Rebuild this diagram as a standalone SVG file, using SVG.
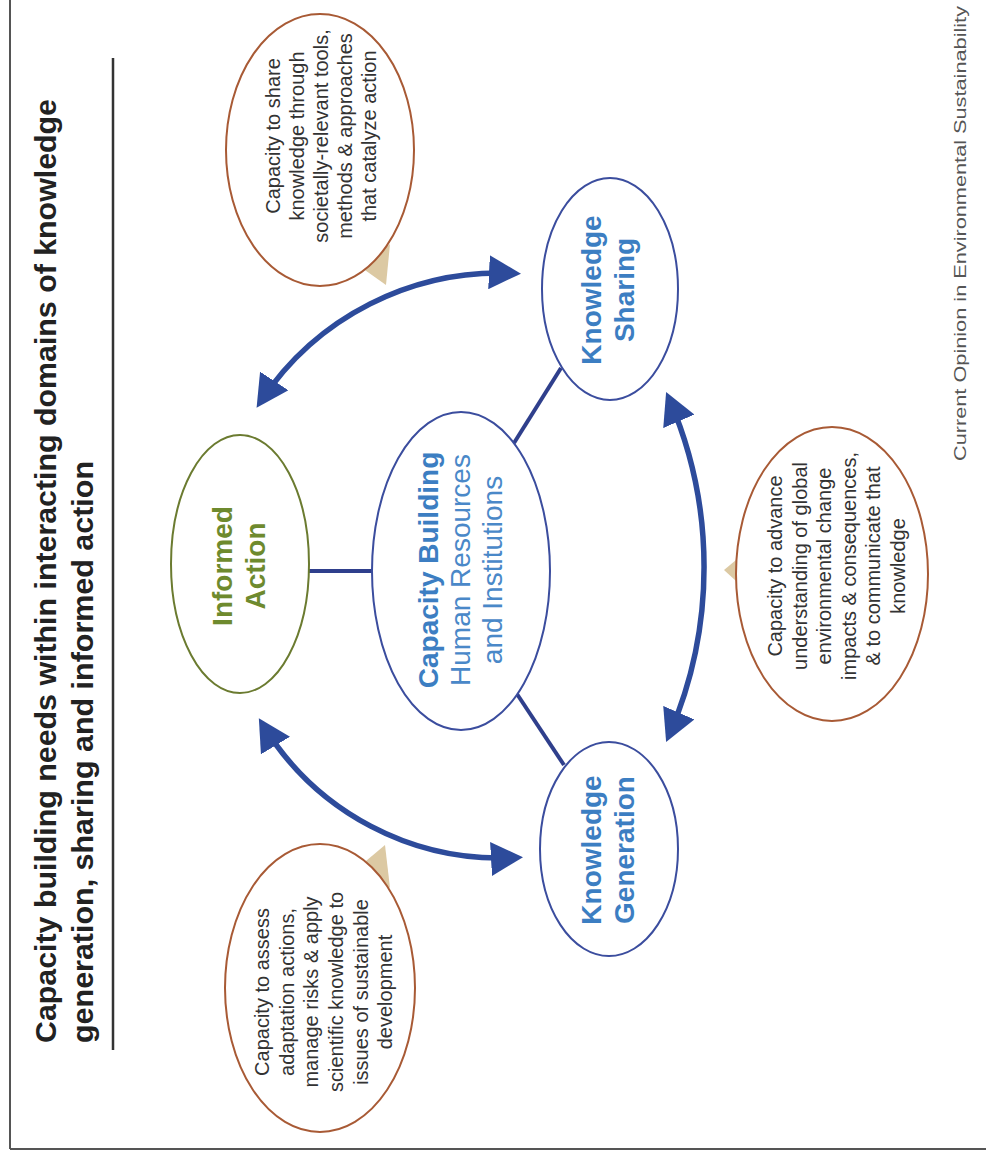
<svg xmlns="http://www.w3.org/2000/svg" width="986" height="1161" viewBox="0 0 986 1161">
<style>
  text { font-family: "Liberation Sans", Arial, sans-serif; }
  .title { font-size: 30px; font-weight: bold; fill: #222; }
  .node { fill: #fff; stroke: #3b4d9e; stroke-width: 2; }
  .nodeIA { fill: #fff; stroke: #6b7b30; stroke-width: 2; }
  .lblB { font-size: 28px; font-weight: bold; fill: #3c7ec2; text-anchor: middle; }
  .lblR { font-size: 28px; fill: #4a88c8; text-anchor: middle; }
  .lblIA { font-size: 28px; font-weight: bold; fill: #6e8a2e; text-anchor: middle; }
  .call { fill: #fff; stroke: #a85a35; stroke-width: 2; }
  .tail { fill: #dcc9a3; }
  .ct { font-size: 20px; fill: #333; text-anchor: middle; }
  .conn { stroke: #2f3f8c; stroke-width: 4; fill: none; }
  .arc { stroke: #2d4b9b; stroke-width: 5.5; fill: none; marker-start: url(#ah); marker-end: url(#ah); }
</style>
<defs>
  <marker id="ah" viewBox="0 0 32 34" markerWidth="32" markerHeight="34" refX="24" refY="17" orient="auto-start-reverse" markerUnits="userSpaceOnUse">
    <path d="M0,0 L32,17 L0,34 z" fill="#2d4b9b"/>
  </marker>
</defs>
<rect x="0" y="0" width="986" height="1161" fill="#fff"/>

<!-- frame -->
<g id="frame" fill="none" stroke="#555" stroke-width="2">
  <line x1="10" y1="0" x2="10" y2="1149"/>
  <line x1="10" y1="1149" x2="986" y2="1149"/>
</g>

<!-- title -->
<g id="title">
  <g transform="translate(0,1043) rotate(-90)">
    <text class="title" x="0" y="56" textLength="944" lengthAdjust="spacingAndGlyphs">Capacity building needs within interacting domains of knowledge</text>
    <text class="title" x="0" y="93" textLength="582" lengthAdjust="spacingAndGlyphs">generation, sharing and informed action</text>
  </g>
  <line x1="113" y1="58" x2="113" y2="1050" stroke="#333" stroke-width="2.5"/>
</g>

<!-- connectors -->
<g id="connectors">
  <line class="conn" x1="308" y1="571" x2="372" y2="571"/>
  <line class="conn" x1="514" y1="443" x2="561" y2="368"/>
  <line class="conn" x1="517" y1="694" x2="564" y2="765"/>
  <path class="arc" d="M261,401 A286,286 0 0 1 513,273.3"/>
  <path class="arc" d="M263,725 A277,277 0 0 0 515,857.6"/>
  <path class="arc" d="M669.3,399.3 A422,422 0 0 1 669.3,734.7"/>
</g>

<!-- nodes -->
<g id="informed-action">
  <ellipse class="nodeIA" cx="240" cy="564" rx="69" ry="129"/>
  <g transform="translate(0,566) rotate(-90)">
    <text class="lblIA" x="0" y="232">Informed</text>
    <text class="lblIA" x="0" y="265">Action</text>
  </g>
</g>

<g id="capacity-building">
  <ellipse class="node" cx="461" cy="571" rx="89" ry="159"/>
  <g transform="translate(0,570) rotate(-90)">
    <text class="lblB" x="0" y="438">Capacity Building</text>
    <text class="lblR" x="0" y="470">Human Resources</text>
    <text class="lblR" x="0" y="502">and Institutions</text>
  </g>
</g>

<g id="knowledge-sharing">
  <ellipse class="node" cx="610" cy="289" rx="68" ry="111"/>
  <g transform="translate(0,290) rotate(-90)">
    <text class="lblB" x="0" y="601">Knowledge</text>
    <text class="lblB" x="0" y="634">Sharing</text>
  </g>
</g>

<g id="knowledge-generation">
  <ellipse class="node" cx="609" cy="849" rx="69" ry="107"/>
  <g transform="translate(0,850) rotate(-90)">
    <text class="lblB" x="0" y="601">Knowledge</text>
    <text class="lblB" x="0" y="634">Generation</text>
  </g>
</g>

<!-- callouts -->
<g id="callout-sharing">
  <polygon class="tail" points="362,268 390,244 386,285"/>
  <ellipse class="call" cx="320" cy="150" rx="94" ry="136"/>
  <g transform="translate(0,136) rotate(-90)">
    <text class="ct" x="0" y="280">Capacity to share</text>
    <text class="ct" x="0" y="304">knowledge through</text>
    <text class="ct" x="0" y="328">societally-relevant tools,</text>
    <text class="ct" x="0" y="352">methods &amp; approaches</text>
    <text class="ct" x="0" y="376">that catalyze action</text>
  </g>
</g>

<g id="callout-action">
  <polygon class="tail" points="360,866 390,888 385,845"/>
  <ellipse class="call" cx="320" cy="988" rx="95" ry="144"/>
  <g transform="translate(0,992) rotate(-90)">
    <text class="ct" x="0" y="269">Capacity to assess</text>
    <text class="ct" x="0" y="294">adaptation actions,</text>
    <text class="ct" x="0" y="318">manage risks &amp; apply</text>
    <text class="ct" x="0" y="343">scientific knowledge to</text>
    <text class="ct" x="0" y="368">issues of sustainable</text>
    <text class="ct" x="0" y="392">development</text>
  </g>
</g>

<g id="callout-generation">
  <polygon class="tail" points="724,570 748,550 748,592"/>
  <ellipse class="call" cx="832" cy="574" rx="96" ry="147"/>
  <g transform="translate(0,566) rotate(-90)">
    <text class="ct" x="0" y="782">Capacity to advance</text>
    <text class="ct" x="0" y="807">understanding of global</text>
    <text class="ct" x="0" y="831">environmental change</text>
    <text class="ct" x="0" y="856">impacts &amp; consequences,</text>
    <text class="ct" x="0" y="880">&amp; to communicate that</text>
    <text class="ct" x="0" y="905">knowledge</text>
  </g>
</g>

<!-- footer -->
<g id="footer" transform="translate(0,461) rotate(-90)">
  <text x="0" y="966" font-size="16" fill="#555" textLength="455" lengthAdjust="spacingAndGlyphs">Current Opinion in Environmental Sustainability</text>
</g>
</svg>
